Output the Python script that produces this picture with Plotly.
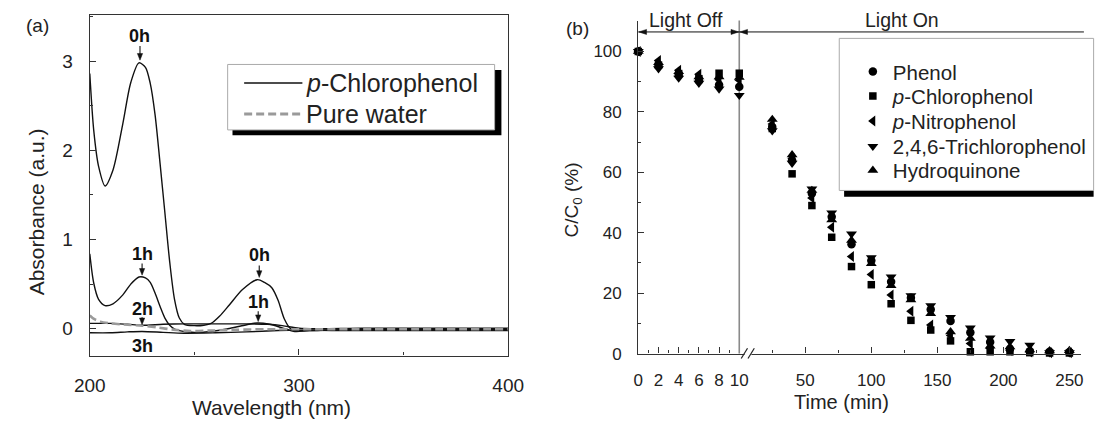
import plotly.graph_objects as go

W, H = 1097, 430
def fx(x): return x / W
def fy(y): return 1 - y / H

FONT = "Liberation Sans, Arial, sans-serif"
INK = "#222222"
AX = "#333333"

# ---------------- Panel (a): UV-Vis spectra ----------------
wl_0h = [200, 201.9, 204.2, 207.3, 211.1, 215.8, 219.6, 223.5, 226.6, 228.9, 231.2, 233.6,
         235.9, 238.2, 240.5, 242.8, 245.2, 250, 254.5, 258, 262, 266.8, 273, 280, 283.5,
         287, 290, 293, 296, 299.3, 305, 320, 350, 400]
abs_0h = [2.86, 2.22, 1.82, 1.60, 1.78, 2.30, 2.76, 2.98, 2.93, 2.75, 2.40, 1.85,
          1.30, 0.75, 0.33, 0.12, 0.05, 0.035, 0.04, 0.06, 0.14, 0.27, 0.44, 0.55, 0.52,
          0.46, 0.32, 0.11, 0.0, -0.02, -0.02, -0.01, -0.01, -0.01]

wl_1h = [200, 201.9, 204.2, 207.3, 211.1, 215.8, 219.6, 223.5, 226.6, 228.9, 231.2, 233.6,
         235.9, 238.2, 241, 245, 250, 258, 266, 274, 280, 286, 292, 298, 305, 320, 400]
abs_1h = [0.84, 0.51, 0.33, 0.26, 0.28, 0.38, 0.50, 0.58, 0.57, 0.52, 0.40, 0.25,
          0.12, 0.04, -0.01, -0.03, -0.04, -0.03, 0.0, 0.04, 0.065, 0.05, 0.01, -0.03,
          -0.02, -0.015, -0.015]

wl_2h = [200, 210, 218, 225, 235, 245, 255, 265, 275, 285, 292, 300, 310, 330, 400]
abs_2h = [0.06, 0.06, 0.05, 0.04, 0.05, 0.055, 0.055, 0.055, 0.055, 0.05, 0.035, 0.005,
          0.0, 0.005, 0.005]

wl_3h = [200, 210, 218, 225, 235, 245, 260, 275, 290, 300, 320, 400]
abs_3h = [-0.045, -0.045, -0.035, -0.03, -0.04, -0.05, -0.045, -0.035, -0.02, -0.015,
          -0.02, -0.02]

wl_water = [200, 202, 205, 210, 218, 225, 232, 240, 248, 258, 270, 285, 300, 330, 400]
abs_water = [0.15, 0.11, 0.08, 0.06, 0.045, 0.035, 0.015, -0.01, -0.025, -0.02, -0.012,
             -0.005, -0.005, -0.005, -0.005]

# time labels on the spectra and their arrows (tail/tip None = no arrow)
label_text = ["0h", "1h", "2h", "3h", "0h", "1h"]
label_x = [224, 225, 225, 225, 281, 280.5]
label_y = [3.285, 0.842, 0.222, -0.197, 0.824, 0.295]
arrow_tail = [3.17, 0.73, 0.13, None, 0.71, 0.195]
arrow_tip = [3.01, 0.60, 0.045, None, 0.575, 0.08]

# ---------------- Panel (b): degradation kinetics ----------------
t_off = [0, 2, 4, 6, 8, 10]
t_on = [25, 40, 55, 70, 85, 100, 115, 130, 145, 160, 175, 190, 205, 220, 235, 250]

series_names = ["Phenol", "<i>p</i>-Chlorophenol", "<i>p</i>-Nitrophenol",
                "2,4,6-Trichlorophenol", "Hydroquinone"]
series_symbols = ["circle", "square", "triangle-left", "triangle-down", "triangle-up"]
series_sizes = [8.5, 7.5, 9.5, 9.5, 9.5]

phenol_off = [100, 95.2, 92.2, 90.3, 89.0, 88.3]
pcp_off = [100, 95.5, 92.7, 91.0, 92.8, 92.8]
pnp_off = [100, 97.0, 93.8, 92.5, 90.6, 90.5]
tcp_off = [100, 94.3, 91.2, 89.5, 87.6, 85.5]
hq_off = [100, 96.3, 93.3, 91.6, 91.6, 91.4]

phenol_on = [75, 64, 53, 45.3, 36.2, 30.8, 23.8, 18.5, 14.6, 10.8, 7, 3.8, 1.5, 0.8, 0.6, 0.5]
pcp_on = [74.5, 59.5, 49, 38.5, 28.8, 22.8, 16.5, 11, 7.8, 4.2, 0.6, 0.6, 0.6, 0.3, 0.2, 0.2]
pnp_on = [76, 64.5, 51.5, 41.8, 32.1, 26.2, 19.4, 14, 9.5, 6, 3.3, 1.8, 1, 0.5, 0.3, 0.3]
tcp_on = [73.8, 63, 54.5, 46.6, 39.6, 31.8, 25.4, 19.2, 15.9, 12, 8.5, 5.2, 4, 2.8, 0.3, 0.3]
hq_on = [77.5, 65.8, 54, 44.3, 37.5, 29.8, 22.5, 17.8, 13.2, 7.2, 5, 2.5, 2.2, 1.2, 0.9, 1.0]

off_data = [phenol_off, pcp_off, pnp_off, tcp_off, hq_off]
on_data = [phenol_on, pcp_on, pnp_on, tcp_on, hq_on]

legend_rows_px = [73.5, 98.5, 124, 150, 174.5]

fig = go.Figure()

# spectra
for wl, ab in [(wl_0h, abs_0h), (wl_1h, abs_1h), (wl_2h, abs_2h), (wl_3h, abs_3h)]:
    fig.add_trace(go.Scatter(x=wl, y=ab, mode="lines", xaxis="x", yaxis="y",
                             line=dict(color="#111111", width=1.4, shape="spline", smoothing=0.8),
                             showlegend=False, hoverinfo="skip"))
fig.add_trace(go.Scatter(x=wl_water, y=abs_water, mode="lines", xaxis="x", yaxis="y",
                         line=dict(color="#9a9a9a", width=2.6, dash="8px,4px",
                                   shape="spline", smoothing=0.8),
                         showlegend=False, hoverinfo="skip"))

# kinetics
legend_keys = ["legend", "legend2", "legend3", "legend4", "legend5"]
for i in range(5):
    mk = dict(symbol=series_symbols[i], size=series_sizes[i], color="#000000",
              line=dict(width=0))
    fig.add_trace(go.Scatter(x=t_off, y=off_data[i], mode="markers", xaxis="x2", yaxis="y2",
                             marker=mk, cliponaxis=False, showlegend=False))
    fig.add_trace(go.Scatter(x=t_on, y=on_data[i], mode="markers", xaxis="x3", yaxis="y2",
                             marker=mk, cliponaxis=False, name=series_names[i],
                             legend=legend_keys[i], showlegend=True))

axis_common = dict(showgrid=False, zeroline=False, showline=True, linecolor=AX, linewidth=1.3,
                   ticks="inside", tickcolor=AX, tickwidth=1.2, ticklen=6,
                   tickfont=dict(family=FONT, color=INK))

def minor(vals):
    return dict(tickmode="array", tickvals=vals, ticks="inside", ticklen=3,
                tickcolor=AX, tickwidth=1.2)

layout = dict(
    width=W, height=H, margin=dict(l=0, r=0, t=0, b=0),
    paper_bgcolor="white", plot_bgcolor="rgba(0,0,0,0)",
    font=dict(family=FONT, color=INK),
    xaxis=dict(axis_common, domain=[fx(76), fx(507)], range=[200, 400], anchor="y",
               mirror=True, tickmode="array", tickvals=[200, 300, 400],
               minor=minor([250, 350]),
               tickfont=dict(family=FONT, color=INK, size=19), ticklabelstandoff=13),
    yaxis=dict(axis_common, domain=[fy(364), fy(15)], range=[-0.3, 3.52], anchor="x",
               mirror=True, tickmode="array", tickvals=[0, 1, 2, 3],
               minor=minor([0.5, 1.5, 2.5, 3.5]),
               tickfont=dict(family=FONT, color=INK, size=19), ticklabelstandoff=12),
    xaxis2=dict(axis_common, domain=[fx(641), fx(745)], range=[0, 10], anchor="y2",
                tickmode="array", tickvals=[0, 2, 4, 6, 8, 10],
                minor=minor([1, 3, 5, 7, 9]),
                tickfont=dict(family=FONT, color=INK, size=17), ticklabelstandoff=11),
    xaxis3=dict(axis_common, domain=[fx(745), 1.0], range=[0, 258.8], anchor="y2",
                tickmode="array", tickvals=[50, 100, 150, 200, 250],
                minor=minor([25, 75, 125, 175, 225]),
                tickfont=dict(family=FONT, color=INK, size=17), ticklabelstandoff=11),
    yaxis2=dict(axis_common, domain=[fy(362), fy(21)], range=[0, 110.25], anchor="x2",
                tickmode="array", tickvals=[0, 20, 40, 60, 80, 100],
                minor=minor([10, 30, 50, 70, 90, 110]),
                tickfont=dict(family=FONT, color=INK, size=17), ticklabelstandoff=12),
)

for i, key in enumerate(legend_keys):
    layout[key] = dict(x=fx(862), y=fy(legend_rows_px[i]), xanchor="left", yanchor="middle",
                       bgcolor="rgba(0,0,0,0)", borderwidth=0,
                       font=dict(family=FONT, size=20.5, color=INK), itemclick=False)

fig.update_layout(**layout)

shapes = []
def rect(x0, y0, x1, y1, fill, line_color=None, lw=0, layer="above"):
    return dict(type="rect", xref="paper", yref="paper", x0=fx(x0), x1=fx(x1),
                y0=fy(y1), y1=fy(y0), fillcolor=fill, layer=layer,
                line=dict(color=line_color or fill, width=lw))
def seg(x0, y0, x1, y1, color, lw, dash="solid", layer="above"):
    return dict(type="line", xref="paper", yref="paper", x0=fx(x0), y0=fy(y0),
                x1=fx(x1), y1=fy(y1), layer=layer, line=dict(color=color, width=lw, dash=dash))
def head(tip_x, tip_y, direction):
    bx = tip_x - direction * 8
    p = (f"M {fx(tip_x)},{fy(tip_y)} L {fx(bx)},{fy(tip_y - 2.6)} "
         f"L {fx(bx)},{fy(tip_y + 2.6)} Z")
    return dict(type="path", xref="paper", yref="paper", path=p, fillcolor="#111111",
                line=dict(color="#111111", width=0.5), layer="above")

# legend (a)
shapes.append(rect(223, 71.7, 500, 138.5, "#000000"))
shapes.append(rect(218, 66, 493, 133, "#ffffff", "#aaaaaa", 1))
shapes.append(seg(235, 85, 295, 85, "#111111", 1.4))
shapes.append(seg(235, 116.7, 295, 116.7, "#9a9a9a", 3, dash="8px,4px"))

# legend (b)
shapes.append(rect(853, 195, 1110, 201.5, "#000000"))
shapes.append(rect(848, 39.3, 1110, 195, "#ffffff", "#aaaaaa", 1))

# light off / on divider and dimension line
shapes.append(seg(745, 21, 745, 362, "#8a8a8a", 1.6, layer="below"))
shapes.append(seg(641, 32.7, 1100, 32.7, "#111111", 1))
shapes.append(head(641.5, 32.7, -1))
shapes.append(head(744.5, 32.7, 1))
shapes.append(head(745.5, 32.7, -1))

# axis break marks
shapes.append(rect(750.5, 358, 757.5, 366, "#ffffff"))
shapes.append(seg(747, 367, 753.5, 356.5, "#222222", 1.2))
shapes.append(seg(754, 367, 760.5, 356.5, "#222222", 1.2))

# arrows pointing at the spectra (data coordinates of panel a)
for x, ta, tp in zip(label_x, arrow_tail, arrow_tip):
    if ta is None:
        continue
    hl = 0.075   # head length in absorbance units (~7 px)
    hw = 1.25    # head half-width in nm (~2.7 px)
    shapes.append(dict(type="line", xref="x", yref="y", x0=x, x1=x, y0=ta, y1=tp + hl * 0.6,
                       line=dict(color="#111111", width=1.1), layer="above"))
    shapes.append(dict(type="path", xref="x", yref="y",
                       path=f"M {x - hw},{tp + hl} L {x + hw},{tp + hl} L {x},{tp} Z",
                       fillcolor="#111111", line=dict(color="#111111", width=0.5),
                       layer="above"))

fig.update_layout(shapes=shapes)

ann = []
def txt(x, y, s, size, xanchor="center", yanchor="middle", angle=0):
    return dict(xref="paper", yref="paper", x=fx(x), y=fy(y), text=s, showarrow=False,
                xanchor=xanchor, yanchor=yanchor, textangle=angle,
                font=dict(family=FONT, size=size, color=INK))

ann.append(txt(22, 26, "(a)", 19))
ann.append(txt(578, 29, "(b)", 19))
ann.append(txt(22, 217, "Absorbance (a.u.)", 21, angle=-90))
ann.append(txt(263, 417, "Wavelength (nm)", 21))
ann.append(txt(574, 205, "C/C<sub>0</sub> (%)", 19, angle=-90))
ann.append(txt(850, 412, "Time (min)", 20))
ann.append(txt(690, 20, "Light Off", 19.5))
ann.append(txt(913, 20, "Light On", 19.5))
ann.append(txt(297, 85, "<i>p</i>-Chlorophenol", 25, xanchor="left"))
ann.append(txt(297, 116.7, "Pure water", 25, xanchor="left"))

for s, x, y in zip(label_text, label_x, label_y):
    ann.append(dict(xref="x", yref="y", x=x, y=y, text=f"<b>{s}</b>", showarrow=False,
                    font=dict(family=FONT, size=18, color="#111111")))

fig.update_layout(annotations=ann)

fig.write_html("out.html")
